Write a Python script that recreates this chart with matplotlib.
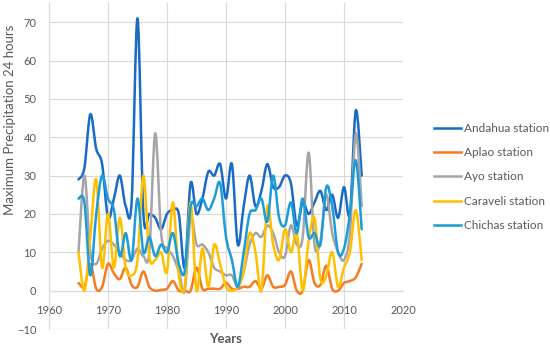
''' Maximum precipitation in 24 hours for five stations, 1965-2013.
Lines are drawn as smoothed Bezier paths, like a spreadsheet "smooth line" chart.
'''

import numpy as np
import matplotlib
matplotlib.use('Agg')
import matplotlib.pyplot as plt
from matplotlib.path import Path
from matplotlib.patches import PathPatch
from matplotlib.lines import Line2D

# ----------------------------------------------------------------------
# data
years = list(range(1965, 2014))

andahua = [29, 32, 46, 37, 33, 19, 24, 30, 22, 23,
           71, 20, 20, 19, 16, 20, 21, 20, 6, 28,
           20, 24, 31, 30, 33, 24, 33, 12, 22, 30,
           22, 26, 33, 27, 27, 30, 28, 17, 23, 20,
           23, 26, 21, 25, 19, 27, 20, 47, 30]

aplao = [2, 1, 7, 0.5, 1, 7, 4.5, 3, 6, 1.5,
         1, 5, 1, 0, 0.2, 0.5, 2.5, 0, 0, 0,
         6, 0.5, 0.5, 0.5, 0.5, 2, 0.5, 0.5, 1, 1,
         2.5, 0.5, 4, 1, 1, 1.5, 5, 0, 0, 8,
         2, 1.5, 6.5, 0.5, 0, 2, 2.5, 3.5, 7]

ayo = [10, 30, 10, 7, 11, 13, 12, 10, 8, 8,
       11, 9, 10, 41, 15, 11, 9, 5, 0, 19,
       12, 12, 10, 6, 5, 4, 4, 1, 5, 12,
       15, 14, 17, 15, 10, 9, 17, 12, 14, 36,
       12, 13, 25, 15, 10, 8, 15, 41, 22]

caraveli = [10, 0, 14, 29, 6, 20, 6, 19, 6, 4,
            8, 30, 9, 8, 10, 5, 23, 4, 1, 23,
            0, 11, 1, 12, 7, 1, 0, 1, 5, 15,
            10, 0, 22, 12, 8, 16, 10, 15, 0, 13,
            19, 3, 4, 10, 1, 6, 10, 21, 8]

chichas = [24, 23, 4, 20, 30, 24, 21, 9, 15, 8,
           24, 10, 14, 9, 12, 10, 15, 7, 5, 22,
           22, 24, 21, 24, 28, 14, 8, 1, 10, 20,
           21, 24, 18, 30, 19, 17, 23, 15, 24, 14,
           15, 12, 27, 22, 10, 11, 20, 34, 16]

names = ['Andahua station', 'Aplao station', 'Ayo station',
         'Caraveli station', 'Chichas station']
series = [andahua, aplao, ayo, caraveli, chichas]
colors = ['#1A6BC6', '#F77B22', '#A5A5A5', '#FFC000', '#1C9CDA']

grey_txt = '#595959'
plt.rcParams['font.family'] = ['Lato', 'DejaVu Sans']


#----------------------------------------------------------------------
def smooth_path(x, y):
    """Catmull-Rom style cubic Bezier path through the points"""
    pts = np.column_stack([x, y]).astype(float)
    n = len(pts)
    verts = [pts[0]]
    codes = [Path.MOVETO]
    for i in range(n - 1):
        p0 = pts[max(i - 1, 0)]
        p1 = pts[i]
        p2 = pts[i + 1]
        p3 = pts[min(i + 2, n - 1)]
        c1 = p1 + (p2 - p0) / 6.0
        c2 = p2 - (p3 - p1) / 6.0
        verts += [c1, c2, p2]
        codes += [Path.CURVE4] * 3
    return Path(verts, codes)


#----------------------------------------------------------------------
def show_precipitation():
    fig = plt.figure(figsize=(5.5, 3.48), dpi=100)
    ax = fig.add_axes([49/550, 1 - 329/348, (403 - 49)/550, (329 - 3)/348])

    handles = []
    for vals, name, col in zip(series, names, colors):
        patch = PathPatch(smooth_path(years, vals), facecolor='none',
                          edgecolor=col, lw=1.8, capstyle='round',
                          joinstyle='round', zorder=3)
        ax.add_patch(patch)
        handles.append(Line2D([], [], color=col, lw=1.8, label=name))

    ax.set_xlim(1960, 2020)
    ax.set_ylim(-10, 75)
    ax.set_xticks(range(1960, 2021, 10))
    ax.set_yticks(range(-10, 71, 10))

    ax.grid(True, color='#D9D9D9', lw=0.8)
    ax.set_axisbelow(True)
    for s in ['top', 'right']:
        ax.spines[s].set_visible(False)
    ax.spines['left'].set_color('#D9D9D9')
    ax.spines['left'].set_linewidth(0.8)
    ax.spines['bottom'].set_position(('data', 0))
    ax.spines['bottom'].set_color('#D9D9D9')
    ax.spines['bottom'].set_linewidth(0.8)
    ax.axhline(-10, color='#D9D9D9', lw=0.8, zorder=0)

    ax.tick_params(length=0, labelsize=8, labelcolor=grey_txt)
    ax.tick_params(axis='y', pad=9)
    ax.tick_params(axis='x', pad=10)

    ax.set_xlabel('Years', fontsize=9.5, fontweight='bold', color=grey_txt)
    ax.xaxis.set_label_coords(0.5, -0.012)
    ax.set_ylabel('Maximum Precipitation 24 hours', fontsize=9.5,
                  color=grey_txt)
    ax.yaxis.set_label_coords(-33/354, (329 - 120)/326)

    fig.legend(handles=handles, loc='center left',
               bbox_to_anchor=(434/550, 1 - 177/348), frameon=False,
               labelcolor=grey_txt, handlelength=2.3,
               handletextpad=0.2, labelspacing=1.12, borderpad=0,
               borderaxespad=0, prop={'size': 8.5})

    fig.savefig('out.png', dpi=100)


# -----------------------------------------------------------------------------------
if __name__ == '__main__':
    show_precipitation()
